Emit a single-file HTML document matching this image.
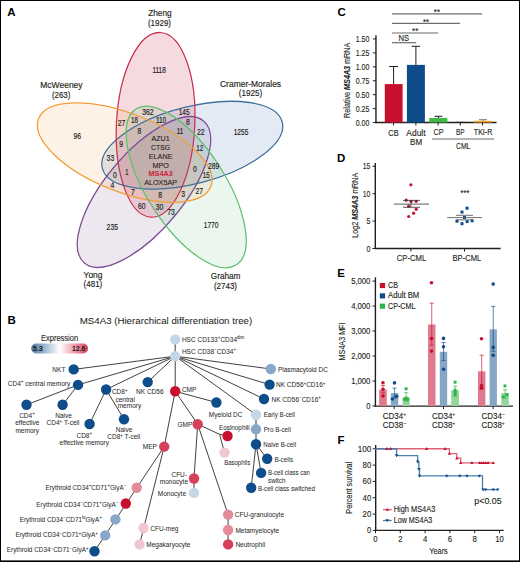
<!DOCTYPE html>
<html><head><meta charset="utf-8"><style>
html,body{margin:0;padding:0;background:#fff;}
svg{display:block;}
text{font-family:"Liberation Sans", sans-serif;}
</style></head><body>
<svg width="520" height="562" viewBox="0 0 520 562">
<rect x="0" y="0" width="520" height="562" fill="#fff"/>
<g>
<ellipse cx="143.97" cy="191.99" rx="37.93" ry="91.65" transform="rotate(219.98 143.97 191.99)" fill="rgb(68,16,99)" fill-opacity="0.0962" stroke="none"/>
<ellipse cx="192.29" cy="145.18" rx="37.41" ry="91.83" transform="rotate(75.54 192.29 145.18)" fill="rgb(14,67,148)" fill-opacity="0.1119" stroke="none"/>
<ellipse cx="155.59" cy="124.8" rx="38.13" ry="91.39" transform="rotate(2.92 155.59 124.8)" fill="rgb(189,10,50)" fill-opacity="0.1511" stroke="none"/>
<ellipse cx="124.71" cy="152.58" rx="38.05" ry="91.53" transform="rotate(291.55 124.71 152.58)" fill="rgb(245,130,15)" fill-opacity="0.104" stroke="none"/>
<ellipse cx="186.18" cy="186.92" rx="38.1" ry="91.61" transform="rotate(147.21 186.18 186.92)" fill="rgb(17,153,63)" fill-opacity="0.0884" stroke="none"/>
<ellipse cx="143.97" cy="191.99" rx="38.93" ry="92.65" transform="rotate(219.98 143.97 191.99)" fill="none" stroke="#7d4d93" stroke-width="1.3"/>
<ellipse cx="192.29" cy="145.18" rx="38.41" ry="92.83" transform="rotate(75.54 192.29 145.18)" fill="none" stroke="#3d6f9c" stroke-width="1.3"/>
<ellipse cx="155.59" cy="124.8" rx="39.13" ry="92.39" transform="rotate(2.92 155.59 124.8)" fill="none" stroke="#c9314f" stroke-width="1.3"/>
<ellipse cx="124.71" cy="152.58" rx="39.05" ry="92.53" transform="rotate(291.55 124.71 152.58)" fill="none" stroke="#f39c33" stroke-width="1.3"/>
<ellipse cx="186.18" cy="186.92" rx="39.1" ry="92.61" transform="rotate(147.21 186.18 186.92)" fill="none" stroke="#5dbf6c" stroke-width="1.3"/>
</g>
<text x="7.3" y="15.9" font-size="11.5" text-anchor="start" fill="#000" font-weight="bold">A</text>
<text x="159.95" y="16.3" font-size="8.4" text-anchor="middle" fill="#231f20" font-weight="normal" textLength="23.5" lengthAdjust="spacingAndGlyphs" stroke="#231f20" stroke-width="0.15">Zheng</text>
<text x="159.45" y="25.8" font-size="8.4" text-anchor="middle" fill="#231f20" font-weight="normal" textLength="23.1" lengthAdjust="spacingAndGlyphs" stroke="#231f20" stroke-width="0.15">(1929)</text>
<text x="61.45" y="88.2" font-size="8.4" text-anchor="middle" fill="#231f20" font-weight="normal" textLength="42.3" lengthAdjust="spacingAndGlyphs" stroke="#231f20" stroke-width="0.15">McWeeney</text>
<text x="61.15" y="97.8" font-size="8.4" text-anchor="middle" fill="#231f20" font-weight="normal" textLength="18.5" lengthAdjust="spacingAndGlyphs" stroke="#231f20" stroke-width="0.15">(263)</text>
<text x="250.55" y="86.8" font-size="8.4" text-anchor="middle" fill="#231f20" font-weight="normal" textLength="61.1" lengthAdjust="spacingAndGlyphs" stroke="#231f20" stroke-width="0.15">Cramer-Morales</text>
<text x="250.55" y="96.4" font-size="8.4" text-anchor="middle" fill="#231f20" font-weight="normal" textLength="23.5" lengthAdjust="spacingAndGlyphs" stroke="#231f20" stroke-width="0.15">(1925)</text>
<text x="225.6" y="278.8" font-size="8.4" text-anchor="middle" fill="#231f20" font-weight="normal" textLength="29.6" lengthAdjust="spacingAndGlyphs" stroke="#231f20" stroke-width="0.15">Graham</text>
<text x="225.45" y="288.7" font-size="8.4" text-anchor="middle" fill="#231f20" font-weight="normal" textLength="23.1" lengthAdjust="spacingAndGlyphs" stroke="#231f20" stroke-width="0.15">(2743)</text>
<text x="92.95" y="277.7" font-size="8.4" text-anchor="middle" fill="#231f20" font-weight="normal" textLength="18.7" lengthAdjust="spacingAndGlyphs" stroke="#231f20" stroke-width="0.15">Yong</text>
<text x="92.95" y="287.3" font-size="8.4" text-anchor="middle" fill="#231f20" font-weight="normal" textLength="18.7" lengthAdjust="spacingAndGlyphs" stroke="#231f20" stroke-width="0.15">(481)</text>
<text x="159.1" y="72.5" font-size="8.2" text-anchor="middle" fill="#231f20" font-weight="normal" textLength="13.4" lengthAdjust="spacingAndGlyphs" stroke="#231f20" stroke-width="0.16">1118</text>
<text x="77.2" y="138.5" font-size="8.2" text-anchor="middle" fill="#231f20" font-weight="normal" textLength="7.6" lengthAdjust="spacingAndGlyphs" stroke="#231f20" stroke-width="0.16">96</text>
<text x="241" y="134.7" font-size="8.2" text-anchor="middle" fill="#231f20" font-weight="normal" textLength="14.6" lengthAdjust="spacingAndGlyphs" stroke="#231f20" stroke-width="0.16">1255</text>
<text x="211.1" y="227.7" font-size="8.2" text-anchor="middle" fill="#231f20" font-weight="normal" textLength="14.6" lengthAdjust="spacingAndGlyphs" stroke="#231f20" stroke-width="0.16">1770</text>
<text x="112.3" y="230.1" font-size="8.2" text-anchor="middle" fill="#231f20" font-weight="normal" textLength="11.4" lengthAdjust="spacingAndGlyphs" stroke="#231f20" stroke-width="0.16">235</text>
<text x="147.9" y="114.9" font-size="8.2" text-anchor="middle" fill="#231f20" font-weight="normal" textLength="11.4" lengthAdjust="spacingAndGlyphs" stroke="#231f20" stroke-width="0.16">362</text>
<text x="184.1" y="114.9" font-size="8.2" text-anchor="middle" fill="#231f20" font-weight="normal" textLength="10.8" lengthAdjust="spacingAndGlyphs" stroke="#231f20" stroke-width="0.16">145</text>
<text x="121.5" y="125.5" font-size="8.2" text-anchor="middle" fill="#231f20" font-weight="normal" textLength="7.6" lengthAdjust="spacingAndGlyphs" stroke="#231f20" stroke-width="0.16">27</text>
<text x="134.5" y="123.1" font-size="8.2" text-anchor="middle" fill="#231f20" font-weight="normal" textLength="7.0" lengthAdjust="spacingAndGlyphs" stroke="#231f20" stroke-width="0.16">18</text>
<text x="161" y="122.9" font-size="8.2" text-anchor="middle" fill="#231f20" font-weight="normal" textLength="10.2" lengthAdjust="spacingAndGlyphs" stroke="#231f20" stroke-width="0.16">110</text>
<text x="188" y="125" font-size="8.2" text-anchor="middle" fill="#231f20" font-weight="normal" textLength="3.8" lengthAdjust="spacingAndGlyphs" stroke="#231f20" stroke-width="0.16">8</text>
<text x="139.5" y="134.4" font-size="8.2" text-anchor="middle" fill="#231f20" font-weight="normal" textLength="3.8" lengthAdjust="spacingAndGlyphs" stroke="#231f20" stroke-width="0.16">8</text>
<text x="180" y="134.4" font-size="8.2" text-anchor="middle" fill="#231f20" font-weight="normal" textLength="6.4" lengthAdjust="spacingAndGlyphs" stroke="#231f20" stroke-width="0.16">11</text>
<text x="200.7" y="135" font-size="8.2" text-anchor="middle" fill="#231f20" font-weight="normal" textLength="7.6" lengthAdjust="spacingAndGlyphs" stroke="#231f20" stroke-width="0.16">22</text>
<text x="121.2" y="146.5" font-size="8.2" text-anchor="middle" fill="#231f20" font-weight="normal" textLength="3.8" lengthAdjust="spacingAndGlyphs" stroke="#231f20" stroke-width="0.16">9</text>
<text x="110.4" y="161.3" font-size="8.2" text-anchor="middle" fill="#231f20" font-weight="normal" textLength="7.6" lengthAdjust="spacingAndGlyphs" stroke="#231f20" stroke-width="0.16">33</text>
<text x="199.7" y="150.6" font-size="8.2" text-anchor="middle" fill="#231f20" font-weight="normal" textLength="7.0" lengthAdjust="spacingAndGlyphs" stroke="#231f20" stroke-width="0.16">12</text>
<text x="114.8" y="178.3" font-size="8.2" text-anchor="middle" fill="#231f20" font-weight="normal" textLength="3.8" lengthAdjust="spacingAndGlyphs" stroke="#231f20" stroke-width="0.16">0</text>
<text x="126.9" y="174.8" font-size="8.2" text-anchor="middle" fill="#231f20" font-weight="normal" textLength="3.2" lengthAdjust="spacingAndGlyphs" stroke="#231f20" stroke-width="0.16">1</text>
<text x="195" y="172.1" font-size="8.2" text-anchor="middle" fill="#231f20" font-weight="normal" textLength="3.8" lengthAdjust="spacingAndGlyphs" stroke="#231f20" stroke-width="0.16">0</text>
<text x="213.7" y="169.4" font-size="8.2" text-anchor="middle" fill="#231f20" font-weight="normal" textLength="11.4" lengthAdjust="spacingAndGlyphs" stroke="#231f20" stroke-width="0.16">289</text>
<text x="206.3" y="178.3" font-size="8.2" text-anchor="middle" fill="#231f20" font-weight="normal" textLength="7.0" lengthAdjust="spacingAndGlyphs" stroke="#231f20" stroke-width="0.16">15</text>
<text x="112.5" y="188.3" font-size="8.2" text-anchor="middle" fill="#231f20" font-weight="normal" textLength="3.8" lengthAdjust="spacingAndGlyphs" stroke="#231f20" stroke-width="0.16">4</text>
<text x="133" y="195" font-size="8.2" text-anchor="middle" fill="#231f20" font-weight="normal" textLength="3.8" lengthAdjust="spacingAndGlyphs" stroke="#231f20" stroke-width="0.16">7</text>
<text x="160.2" y="198.2" font-size="8.2" text-anchor="middle" fill="#231f20" font-weight="normal" textLength="3.8" lengthAdjust="spacingAndGlyphs" stroke="#231f20" stroke-width="0.16">8</text>
<text x="183.2" y="197.2" font-size="8.2" text-anchor="middle" fill="#231f20" font-weight="normal" textLength="3.8" lengthAdjust="spacingAndGlyphs" stroke="#231f20" stroke-width="0.16">3</text>
<text x="199.2" y="194.2" font-size="8.2" text-anchor="middle" fill="#231f20" font-weight="normal" textLength="7.6" lengthAdjust="spacingAndGlyphs" stroke="#231f20" stroke-width="0.16">27</text>
<text x="141.8" y="208.9" font-size="8.2" text-anchor="middle" fill="#231f20" font-weight="normal" textLength="7.6" lengthAdjust="spacingAndGlyphs" stroke="#231f20" stroke-width="0.16">60</text>
<text x="159.6" y="209.9" font-size="8.2" text-anchor="middle" fill="#231f20" font-weight="normal" textLength="7.6" lengthAdjust="spacingAndGlyphs" stroke="#231f20" stroke-width="0.16">30</text>
<text x="171" y="215" font-size="8.2" text-anchor="middle" fill="#231f20" font-weight="normal" textLength="7.6" lengthAdjust="spacingAndGlyphs" stroke="#231f20" stroke-width="0.16">73</text>
<text x="160.6" y="141.1" font-size="8.0" text-anchor="middle" fill="#231f20" font-weight="normal" textLength="18.2" lengthAdjust="spacingAndGlyphs" stroke="#231f20" stroke-width="0.1">AZU1</text>
<text x="160.6" y="149.8" font-size="8.0" text-anchor="middle" fill="#231f20" font-weight="normal" textLength="19" lengthAdjust="spacingAndGlyphs" stroke="#231f20" stroke-width="0.1">CTSG</text>
<text x="160.6" y="158.8" font-size="8.0" text-anchor="middle" fill="#231f20" font-weight="normal" textLength="23.8" lengthAdjust="spacingAndGlyphs" stroke="#231f20" stroke-width="0.1">ELANE</text>
<text x="160.6" y="167.5" font-size="8.0" text-anchor="middle" fill="#231f20" font-weight="normal" textLength="16.4" lengthAdjust="spacingAndGlyphs" stroke="#231f20" stroke-width="0.1">MPO</text>
<text x="160.6" y="176.1" font-size="8.0" text-anchor="middle" fill="#cc1f3c" font-weight="bold" textLength="24.2" lengthAdjust="spacingAndGlyphs">MS4A3</text>
<text x="160.6" y="184.8" font-size="8.0" text-anchor="middle" fill="#231f20" font-weight="normal" textLength="32.9" lengthAdjust="spacingAndGlyphs" stroke="#231f20" stroke-width="0.1">ALOX5AP</text>
<text x="7.5" y="324.4" font-size="11.5" text-anchor="start" fill="#000" font-weight="bold">B</text>
<text x="79.7" y="324.1" font-size="9.9" text-anchor="start" fill="#231f20" font-weight="normal" textLength="172.5" lengthAdjust="spacingAndGlyphs" stroke="#231f20" stroke-width="0.05">MS4A3 (Hierarchical differentiation tree)</text>
<text x="40.9" y="340.6" font-size="8.2" text-anchor="start" fill="#333" font-weight="normal" textLength="37.3" lengthAdjust="spacingAndGlyphs" stroke="#333" stroke-width="0.15">Expression</text>
<defs><linearGradient id="gr" x1="0" x2="1" y1="0" y2="0"><stop offset="0" stop-color="#4a78aa"/><stop offset="0.5" stop-color="#ffffff"/><stop offset="1" stop-color="#d8415e"/></linearGradient></defs>
<rect x="31.2" y="343.5" width="56.9" height="10" rx="5" fill="url(#gr)"/>
<text x="32.7" y="350.5" font-size="7.0" text-anchor="start" fill="#1a1a1a" font-weight="bold" textLength="10.3" lengthAdjust="spacingAndGlyphs">5.3</text>
<text x="72.1" y="350.5" font-size="7.0" text-anchor="start" fill="#1a1a1a" font-weight="bold" textLength="13.1" lengthAdjust="spacingAndGlyphs">12.6</text>
<line x1="175.2" y1="339.4" x2="175.2" y2="356.2" stroke="#2b2b2b" stroke-width="0.9"/>
<line x1="175.2" y1="356.2" x2="73.7" y2="369.4" stroke="#2b2b2b" stroke-width="0.9"/>
<line x1="175.2" y1="356.2" x2="78" y2="384.9" stroke="#2b2b2b" stroke-width="0.9"/>
<line x1="175.2" y1="356.2" x2="106.1" y2="389.5" stroke="#2b2b2b" stroke-width="0.9"/>
<line x1="175.2" y1="356.2" x2="147.7" y2="382.1" stroke="#2b2b2b" stroke-width="0.9"/>
<line x1="175.2" y1="356.2" x2="175.2" y2="391.3" stroke="#2b2b2b" stroke-width="0.9"/>
<line x1="175.2" y1="356.2" x2="270.8" y2="369" stroke="#2b2b2b" stroke-width="0.9"/>
<line x1="175.2" y1="356.2" x2="269.6" y2="384.6" stroke="#2b2b2b" stroke-width="0.9"/>
<line x1="175.2" y1="356.2" x2="264" y2="399" stroke="#2b2b2b" stroke-width="0.9"/>
<line x1="175.2" y1="356.2" x2="256" y2="414.7" stroke="#2b2b2b" stroke-width="0.9"/>
<line x1="78" y1="384.9" x2="26.5" y2="404.8" stroke="#2b2b2b" stroke-width="0.9"/>
<line x1="78" y1="384.9" x2="62.6" y2="404.8" stroke="#2b2b2b" stroke-width="0.9"/>
<line x1="106.1" y1="389.5" x2="89.6" y2="424" stroke="#2b2b2b" stroke-width="0.9"/>
<line x1="106.1" y1="389.5" x2="124" y2="419.3" stroke="#2b2b2b" stroke-width="0.9"/>
<line x1="175.2" y1="391.3" x2="216.4" y2="402.5" stroke="#2b2b2b" stroke-width="0.9"/>
<line x1="175.2" y1="391.3" x2="197.7" y2="424.2" stroke="#2b2b2b" stroke-width="0.9"/>
<line x1="175.2" y1="391.3" x2="164.2" y2="446.6" stroke="#2b2b2b" stroke-width="0.9"/>
<line x1="197.7" y1="424.2" x2="194" y2="478.5" stroke="#2b2b2b" stroke-width="0.9"/>
<line x1="197.7" y1="424.2" x2="228.1" y2="514.6" stroke="#2b2b2b" stroke-width="0.9"/>
<line x1="164.2" y1="446.6" x2="94.5" y2="551.3" stroke="#2b2b2b" stroke-width="0.9"/>
<line x1="164.2" y1="446.6" x2="139.6" y2="544.4" stroke="#2b2b2b" stroke-width="0.9"/>
<line x1="256" y1="444.2" x2="267.2" y2="458.8" stroke="#2b2b2b" stroke-width="0.9"/>
<line x1="256" y1="444.2" x2="261.1" y2="472.9" stroke="#2b2b2b" stroke-width="0.9"/>
<line x1="256" y1="444.2" x2="251.2" y2="487.7" stroke="#2b2b2b" stroke-width="0.9"/>
<line x1="197.7" y1="424.2" x2="219.6" y2="434.3" stroke="#2b2b2b" stroke-width="0.9"/>
<line x1="219.6" y1="434.3" x2="227.5" y2="436" stroke="#2b2b2b" stroke-width="0.9"/>
<line x1="219.6" y1="434.3" x2="224.5" y2="452.6" stroke="#2b2b2b" stroke-width="0.9"/>
<line x1="256" y1="414.7" x2="256" y2="429.3" stroke="#7a7a7a" stroke-width="1.5"/>
<line x1="256" y1="429.3" x2="256" y2="444.2" stroke="#7a7a7a" stroke-width="1.5"/>
<line x1="194" y1="478.5" x2="194" y2="492.9" stroke="#555" stroke-width="1.1"/>
<line x1="228.1" y1="514.6" x2="228.1" y2="530" stroke="#555" stroke-width="1.1"/>
<line x1="228.1" y1="530" x2="228.1" y2="544.4" stroke="#555" stroke-width="1.1"/>
<circle cx="175.2" cy="339.4" r="5.2" fill="#c5d6e6"/>
<circle cx="175.2" cy="356.2" r="5.2" fill="#c5d6e6"/>
<circle cx="73.7" cy="369.4" r="5.2" fill="#0f4c8a"/>
<circle cx="78" cy="384.9" r="5.2" fill="#0f4c8a"/>
<circle cx="26.5" cy="404.8" r="5.2" fill="#0f4c8a"/>
<circle cx="62.6" cy="404.8" r="5.2" fill="#0f4c8a"/>
<circle cx="106.1" cy="389.5" r="5.2" fill="#0f4c8a"/>
<circle cx="89.6" cy="424" r="5.2" fill="#0f4c8a"/>
<circle cx="124" cy="419.3" r="5.2" fill="#0f4c8a"/>
<circle cx="147.7" cy="382.1" r="5.2" fill="#0f4c8a"/>
<circle cx="175.2" cy="391.3" r="5.2" fill="#c8102e"/>
<circle cx="270.8" cy="369" r="5.2" fill="#88a8c9"/>
<circle cx="269.6" cy="384.6" r="5.2" fill="#0f4c8a"/>
<circle cx="264" cy="399" r="5.2" fill="#0f4c8a"/>
<circle cx="216.4" cy="402.5" r="5.2" fill="#0f4c8a"/>
<circle cx="256" cy="414.7" r="5.2" fill="#c5d6e6"/>
<circle cx="256" cy="429.3" r="5.2" fill="#88a8c9"/>
<circle cx="256" cy="444.2" r="5.2" fill="#0f4c8a"/>
<circle cx="267.2" cy="458.8" r="5.2" fill="#0f4c8a"/>
<circle cx="261.1" cy="472.9" r="5.2" fill="#0f4c8a"/>
<circle cx="251.2" cy="487.7" r="5.2" fill="#0f4c8a"/>
<circle cx="197.7" cy="424.2" r="5.2" fill="#d6405b"/>
<circle cx="227.5" cy="436" r="5.2" fill="#c8102e"/>
<circle cx="224.5" cy="452.6" r="5.2" fill="#f2c6ce"/>
<circle cx="164.2" cy="446.6" r="5.2" fill="#d6405b"/>
<circle cx="194" cy="478.5" r="5.2" fill="#d6405b"/>
<circle cx="194" cy="492.9" r="5.2" fill="#c5d6e6"/>
<circle cx="228.1" cy="514.6" r="5.2" fill="#e48b9b"/>
<circle cx="228.1" cy="530" r="5.2" fill="#e48b9b"/>
<circle cx="228.1" cy="544.4" r="5.2" fill="#d6405b"/>
<circle cx="136.7" cy="487.7" r="5.2" fill="#e48b9b"/>
<circle cx="125.8" cy="503.5" r="5.2" fill="#c8102e"/>
<circle cx="115.4" cy="519.4" r="5.2" fill="#88a8c9"/>
<circle cx="105.2" cy="535.4" r="5.2" fill="#88a8c9"/>
<circle cx="94.5" cy="551.3" r="5.2" fill="#0f4c8a"/>
<circle cx="143.5" cy="528" r="5.2" fill="#f2c6ce"/>
<circle cx="139.6" cy="544.4" r="5.2" fill="#f2c6ce"/>
<g transform="translate(181.9 341.6) scale(0.945 1)">
<text x="0" y="0" font-size="6.9" text-anchor="start" fill="#2a2a2a" font-weight="normal" stroke="#333" stroke-width="0.04">HSC CD133<tspan font-size="4.8" dy="-2.6">+</tspan><tspan dy="2.6">CD34</tspan><tspan font-size="4.8" dy="-2.6">dim</tspan></text>
</g>
<g transform="translate(181.9 353.8) scale(0.945 1)">
<text x="0" y="0" font-size="6.9" text-anchor="start" fill="#2a2a2a" font-weight="normal" stroke="#333" stroke-width="0.04">HSC CD38<tspan font-size="4.8" dy="-2.6">−</tspan><tspan dy="2.6">CD34</tspan><tspan font-size="4.8" dy="-2.6">+</tspan></text>
</g>
<g transform="translate(65.4 372.3) scale(0.945 1)">
<text x="0" y="0" font-size="6.9" text-anchor="end" fill="#2a2a2a" font-weight="normal" stroke="#333" stroke-width="0.04">NKT</text>
</g>
<g transform="translate(70.2 385.6) scale(0.945 1)">
<text x="0" y="0" font-size="6.9" text-anchor="end" fill="#2a2a2a" font-weight="normal" stroke="#333" stroke-width="0.04">CD4<tspan font-size="4.8" dy="-2.6">+</tspan><tspan dy="2.6"> central memory</tspan></text>
</g>
<g transform="translate(27 417.7) scale(0.945 1)">
<text x="0" y="0" font-size="6.9" text-anchor="middle" fill="#2a2a2a" font-weight="normal" stroke="#333" stroke-width="0.04">CD4<tspan font-size="4.8" dy="-2.6">+</tspan></text>
</g>
<g transform="translate(27.2 425.4) scale(0.945 1)">
<text x="0" y="0" font-size="6.9" text-anchor="middle" fill="#2a2a2a" font-weight="normal" stroke="#333" stroke-width="0.04">effective</text>
</g>
<g transform="translate(27.2 433.0) scale(0.945 1)">
<text x="0" y="0" font-size="6.9" text-anchor="middle" fill="#2a2a2a" font-weight="normal" stroke="#333" stroke-width="0.04">memory</text>
</g>
<g transform="translate(63.5 417.7) scale(0.945 1)">
<text x="0" y="0" font-size="6.9" text-anchor="middle" fill="#2a2a2a" font-weight="normal" stroke="#333" stroke-width="0.04">Naive</text>
</g>
<g transform="translate(63 425.4) scale(0.945 1)">
<text x="0" y="0" font-size="6.9" text-anchor="middle" fill="#2a2a2a" font-weight="normal" stroke="#333" stroke-width="0.04">CD4<tspan font-size="4.8" dy="-2.6">+</tspan><tspan dy="2.6"> T-cell</tspan></text>
</g>
<g transform="translate(111.9 394.2) scale(0.945 1)">
<text x="0" y="0" font-size="6.9" text-anchor="start" fill="#2a2a2a" font-weight="normal" stroke="#333" stroke-width="0.04">CD8<tspan font-size="4.8" dy="-2.6">+</tspan></text>
</g>
<g transform="translate(115.4 402.0) scale(0.945 1)">
<text x="0" y="0" font-size="6.9" text-anchor="start" fill="#2a2a2a" font-weight="normal" stroke="#333" stroke-width="0.04">central</text>
</g>
<g transform="translate(117.7 407.9) scale(0.945 1)">
<text x="0" y="0" font-size="6.9" text-anchor="start" fill="#2a2a2a" font-weight="normal" stroke="#333" stroke-width="0.04">memory</text>
</g>
<g transform="translate(124 432.3) scale(0.945 1)">
<text x="0" y="0" font-size="6.9" text-anchor="middle" fill="#2a2a2a" font-weight="normal" stroke="#333" stroke-width="0.04">Naive</text>
</g>
<g transform="translate(123.7 439.4) scale(0.945 1)">
<text x="0" y="0" font-size="6.9" text-anchor="middle" fill="#2a2a2a" font-weight="normal" stroke="#333" stroke-width="0.04">CD8<tspan font-size="4.8" dy="-2.6">+</tspan><tspan dy="2.6"> T-cell</tspan></text>
</g>
<g transform="translate(84.3 437.5) scale(0.945 1)">
<text x="0" y="0" font-size="6.9" text-anchor="middle" fill="#2a2a2a" font-weight="normal" stroke="#333" stroke-width="0.04">CD8<tspan font-size="4.8" dy="-2.6">+</tspan></text>
</g>
<g transform="translate(84.3 445.0) scale(0.945 1)">
<text x="0" y="0" font-size="6.9" text-anchor="middle" fill="#2a2a2a" font-weight="normal" stroke="#333" stroke-width="0.04">effective memory</text>
</g>
<g transform="translate(149.8 393.8) scale(0.945 1)">
<text x="0" y="0" font-size="6.9" text-anchor="middle" fill="#2a2a2a" font-weight="normal" stroke="#333" stroke-width="0.04">NK CD56</text>
</g>
<g transform="translate(181.9 391.5) scale(0.945 1)">
<text x="0" y="0" font-size="6.9" text-anchor="start" fill="#2a2a2a" font-weight="normal" stroke="#333" stroke-width="0.04">CMP</text>
</g>
<g transform="translate(277.9 371.8) scale(0.945 1)">
<text x="0" y="0" font-size="6.9" text-anchor="start" fill="#2a2a2a" font-weight="normal" stroke="#333" stroke-width="0.04">Plasmacytoid DC</text>
</g>
<g transform="translate(276 387.2) scale(0.945 1)">
<text x="0" y="0" font-size="6.9" text-anchor="start" fill="#2a2a2a" font-weight="normal" stroke="#333" stroke-width="0.04">NK CD56<tspan font-size="4.8" dy="-2.6">+</tspan><tspan dy="2.6">CD16</tspan><tspan font-size="4.8" dy="-2.6">+</tspan></text>
</g>
<g transform="translate(271.5 401.6) scale(0.945 1)">
<text x="0" y="0" font-size="6.9" text-anchor="start" fill="#2a2a2a" font-weight="normal" stroke="#333" stroke-width="0.04">NK CD56<tspan font-size="4.8" dy="-2.6">−</tspan><tspan dy="2.6">CD16</tspan><tspan font-size="4.8" dy="-2.6">+</tspan></text>
</g>
<g transform="translate(225.7 416.5) scale(0.945 1)">
<text x="0" y="0" font-size="6.9" text-anchor="middle" fill="#2a2a2a" font-weight="normal" stroke="#333" stroke-width="0.04">Myeloid DC</text>
</g>
<g transform="translate(263.7 416.9) scale(0.945 1)">
<text x="0" y="0" font-size="6.9" text-anchor="start" fill="#2a2a2a" font-weight="normal" textLength="33.1" lengthAdjust="spacingAndGlyphs" stroke="#333" stroke-width="0.04">Early B-cell</text>
</g>
<g transform="translate(263.7 431.6) scale(0.945 1)">
<text x="0" y="0" font-size="6.9" text-anchor="start" fill="#2a2a2a" font-weight="normal" textLength="28.7" lengthAdjust="spacingAndGlyphs" stroke="#333" stroke-width="0.04">Pro B-cell</text>
</g>
<g transform="translate(263.3 446.5) scale(0.945 1)">
<text x="0" y="0" font-size="6.9" text-anchor="start" fill="#2a2a2a" font-weight="normal" textLength="34.6" lengthAdjust="spacingAndGlyphs" stroke="#333" stroke-width="0.04">Naive B-cell</text>
</g>
<g transform="translate(274.4 462.3) scale(0.945 1)">
<text x="0" y="0" font-size="6.9" text-anchor="start" fill="#2a2a2a" font-weight="normal" textLength="19.7" lengthAdjust="spacingAndGlyphs" stroke="#333" stroke-width="0.04">B-cells</text>
</g>
<g transform="translate(268 475.4) scale(0.945 1)">
<text x="0" y="0" font-size="6.9" text-anchor="start" fill="#2a2a2a" font-weight="normal" textLength="44.4" lengthAdjust="spacingAndGlyphs" stroke="#333" stroke-width="0.04">B-cell class can</text>
</g>
<g transform="translate(268 482.8) scale(0.945 1)">
<text x="0" y="0" font-size="6.9" text-anchor="start" fill="#2a2a2a" font-weight="normal" textLength="18.4" lengthAdjust="spacingAndGlyphs" stroke="#333" stroke-width="0.04">switch</text>
</g>
<g transform="translate(257.9 490.9) scale(0.945 1)">
<text x="0" y="0" font-size="6.9" text-anchor="start" fill="#2a2a2a" font-weight="normal" textLength="60.4" lengthAdjust="spacingAndGlyphs" stroke="#333" stroke-width="0.04">B-cell class switched</text>
</g>
<g transform="translate(192.3 426.8) scale(0.945 1)">
<text x="0" y="0" font-size="6.9" text-anchor="end" fill="#2a2a2a" font-weight="normal" stroke="#333" stroke-width="0.04">GMP</text>
</g>
<g transform="translate(219 430) scale(0.945 1)">
<text x="0" y="0" font-size="6.9" text-anchor="start" fill="#2a2a2a" font-weight="normal" textLength="32.4" lengthAdjust="spacingAndGlyphs" stroke="#333" stroke-width="0.04">Eosinophill</text>
</g>
<g transform="translate(224.2 465) scale(0.945 1)">
<text x="0" y="0" font-size="6.9" text-anchor="start" fill="#2a2a2a" font-weight="normal" textLength="27.5" lengthAdjust="spacingAndGlyphs" stroke="#333" stroke-width="0.04">Basophils</text>
</g>
<g transform="translate(156.9 449.2) scale(0.945 1)">
<text x="0" y="0" font-size="6.9" text-anchor="end" fill="#2a2a2a" font-weight="normal" stroke="#333" stroke-width="0.04">MEP</text>
</g>
<g transform="translate(187 476.5) scale(0.945 1)">
<text x="0" y="0" font-size="6.9" text-anchor="end" fill="#2a2a2a" font-weight="normal" stroke="#333" stroke-width="0.04">CFU-</text>
</g>
<g transform="translate(188 484.2) scale(0.945 1)">
<text x="0" y="0" font-size="6.9" text-anchor="end" fill="#2a2a2a" font-weight="normal" stroke="#333" stroke-width="0.04">monocyte</text>
</g>
<g transform="translate(186 495.8) scale(0.945 1)">
<text x="0" y="0" font-size="6.9" text-anchor="end" fill="#2a2a2a" font-weight="normal" stroke="#333" stroke-width="0.04">Monocyte</text>
</g>
<g transform="translate(234.8 517) scale(0.945 1)">
<text x="0" y="0" font-size="6.9" text-anchor="start" fill="#2a2a2a" font-weight="normal" stroke="#333" stroke-width="0.04">CFU-granulocyte</text>
</g>
<g transform="translate(235.4 532.5) scale(0.945 1)">
<text x="0" y="0" font-size="6.9" text-anchor="start" fill="#2a2a2a" font-weight="normal" stroke="#333" stroke-width="0.04">Metamyelocyte</text>
</g>
<g transform="translate(235.4 547) scale(0.945 1)">
<text x="0" y="0" font-size="6.9" text-anchor="start" fill="#2a2a2a" font-weight="normal" stroke="#333" stroke-width="0.04">Neutrophil</text>
</g>
<g transform="translate(150.2 530.5) scale(0.945 1)">
<text x="0" y="0" font-size="6.9" text-anchor="start" fill="#2a2a2a" font-weight="normal" stroke="#333" stroke-width="0.04">CFU-meg</text>
</g>
<g transform="translate(146.3 547) scale(0.945 1)">
<text x="0" y="0" font-size="6.9" text-anchor="start" fill="#2a2a2a" font-weight="normal" stroke="#333" stroke-width="0.04">Megakaryocyte</text>
</g>
<g transform="translate(126.2 490) scale(0.945 1)">
<text x="0" y="0" font-size="6.9" text-anchor="end" fill="#2a2a2a" font-weight="normal" textLength="85.4" lengthAdjust="spacingAndGlyphs" stroke="#333" stroke-width="0.04">Erythroid CD34<tspan font-size="4.8" dy="-2.6">+</tspan><tspan dy="2.6">CD71</tspan><tspan font-size="4.8" dy="-2.6">+</tspan><tspan dy="2.6">GlyA</tspan><tspan font-size="4.8" dy="-2.6">−</tspan></text>
</g>
<g transform="translate(118.5 507) scale(0.945 1)">
<text x="0" y="0" font-size="6.9" text-anchor="end" fill="#2a2a2a" font-weight="normal" textLength="87.0" lengthAdjust="spacingAndGlyphs" stroke="#333" stroke-width="0.04">Erythroid CD34<tspan font-size="4.8" dy="-2.6">−</tspan><tspan dy="2.6">CD71</tspan><tspan font-size="4.8" dy="-2.6">+</tspan><tspan dy="2.6">GlyA</tspan><tspan font-size="4.8" dy="-2.6">−</tspan></text>
</g>
<g transform="translate(101.8 521.7) scale(0.945 1)">
<text x="0" y="0" font-size="6.9" text-anchor="end" fill="#2a2a2a" font-weight="normal" textLength="86.9" lengthAdjust="spacingAndGlyphs" stroke="#333" stroke-width="0.04">Erythroid CD34<tspan font-size="4.8" dy="-2.6">−</tspan><tspan dy="2.6">CD71</tspan><tspan font-size="4.8" dy="-2.6">lo</tspan><tspan dy="2.6">GlyA</tspan><tspan font-size="4.8" dy="-2.6">+</tspan></text>
</g>
<g transform="translate(97.8 537.2) scale(0.945 1)">
<text x="0" y="0" font-size="6.9" text-anchor="end" fill="#2a2a2a" font-weight="normal" textLength="87.2" lengthAdjust="spacingAndGlyphs" stroke="#333" stroke-width="0.04">Erythroid CD34<tspan font-size="4.8" dy="-2.6">−</tspan><tspan dy="2.6">CD71</tspan><tspan font-size="4.8" dy="-2.6">+</tspan><tspan dy="2.6">GlyA</tspan><tspan font-size="4.8" dy="-2.6">+</tspan></text>
</g>
<g transform="translate(88.6 552.3) scale(0.945 1)">
<text x="0" y="0" font-size="6.9" text-anchor="end" fill="#2a2a2a" font-weight="normal" textLength="86.6" lengthAdjust="spacingAndGlyphs" stroke="#333" stroke-width="0.04">Erythroid CD34<tspan font-size="4.8" dy="-2.6">−</tspan><tspan dy="2.6">CD71</tspan><tspan font-size="4.8" dy="-2.6">−</tspan><tspan dy="2.6">GlyA</tspan><tspan font-size="4.8" dy="-2.6">+</tspan></text>
</g>
<text x="337.6" y="16.4" font-size="11.5" text-anchor="start" fill="#000" font-weight="bold">C</text>
<line x1="375.95" y1="35.2" x2="375.95" y2="123.2" stroke="#231f20" stroke-width="1.4"/>
<line x1="375.3" y1="122.5" x2="496.5" y2="122.5" stroke="#231f20" stroke-width="1.3"/>
<line x1="372.8" y1="122.50" x2="375.9" y2="122.50" stroke="#231f20" stroke-width="1"/>
<text x="369.4" y="125.6" font-size="8.2" text-anchor="end" fill="#231f20" font-weight="normal" textLength="13.6" lengthAdjust="spacingAndGlyphs" stroke="#231f20" stroke-width="0.12">0.00</text>
<line x1="372.8" y1="108.58" x2="375.9" y2="108.58" stroke="#231f20" stroke-width="1"/>
<text x="369.4" y="111.68" font-size="8.2" text-anchor="end" fill="#231f20" font-weight="normal" textLength="13.6" lengthAdjust="spacingAndGlyphs" stroke="#231f20" stroke-width="0.12">0.25</text>
<line x1="372.8" y1="94.66" x2="375.9" y2="94.66" stroke="#231f20" stroke-width="1"/>
<text x="369.4" y="97.76" font-size="8.2" text-anchor="end" fill="#231f20" font-weight="normal" textLength="13.6" lengthAdjust="spacingAndGlyphs" stroke="#231f20" stroke-width="0.12">0.50</text>
<line x1="372.8" y1="80.74" x2="375.9" y2="80.74" stroke="#231f20" stroke-width="1"/>
<text x="369.4" y="83.84" font-size="8.2" text-anchor="end" fill="#231f20" font-weight="normal" textLength="13.6" lengthAdjust="spacingAndGlyphs" stroke="#231f20" stroke-width="0.12">0.75</text>
<line x1="372.8" y1="66.82" x2="375.9" y2="66.82" stroke="#231f20" stroke-width="1"/>
<text x="369.4" y="69.92" font-size="8.2" text-anchor="end" fill="#231f20" font-weight="normal" textLength="13.6" lengthAdjust="spacingAndGlyphs" stroke="#231f20" stroke-width="0.12">1.00</text>
<line x1="372.8" y1="52.90" x2="375.9" y2="52.90" stroke="#231f20" stroke-width="1"/>
<text x="369.4" y="56.0" font-size="8.2" text-anchor="end" fill="#231f20" font-weight="normal" textLength="13.6" lengthAdjust="spacingAndGlyphs" stroke="#231f20" stroke-width="0.12">1.25</text>
<line x1="372.8" y1="38.98" x2="375.9" y2="38.98" stroke="#231f20" stroke-width="1"/>
<text x="369.4" y="42.08" font-size="8.2" text-anchor="end" fill="#231f20" font-weight="normal" textLength="13.6" lengthAdjust="spacingAndGlyphs" stroke="#231f20" stroke-width="0.12">1.50</text>
<rect x="384.8" y="84.08" width="17.80" height="38.42" fill="#c8102e"/>
<rect x="406.9" y="64.87" width="18.00" height="57.63" fill="#0f4c8a"/>
<rect x="429.2" y="117.93" width="18.20" height="4.57" fill="#43b649"/>
<rect x="456.0" y="121.83" width="9.00" height="0.67" fill="#231f20"/>
<rect x="473.8" y="120.83" width="18.10" height="1.67" fill="#f7a11a"/>
<line x1="393.6" y1="84.08" x2="393.6" y2="66.5" stroke="#231f20" stroke-width="1.0"/>
<line x1="389.1" y1="66.5" x2="398.1" y2="66.5" stroke="#231f20" stroke-width="1.0"/>
<line x1="415.9" y1="64.87" x2="415.9" y2="46.3" stroke="#231f20" stroke-width="1.0"/>
<line x1="411.59999999999997" y1="46.3" x2="420.2" y2="46.3" stroke="#231f20" stroke-width="1.0"/>
<line x1="438.5" y1="117.93" x2="438.5" y2="116.3" stroke="#231f20" stroke-width="1.0"/>
<line x1="434.6" y1="116.3" x2="442.4" y2="116.3" stroke="#231f20" stroke-width="1.0"/>
<line x1="483.0" y1="120.83" x2="483.0" y2="119.7" stroke="#777" stroke-width="1.0"/>
<line x1="479.0" y1="119.7" x2="487.0" y2="119.7" stroke="#777" stroke-width="1.0"/>
<line x1="393.5" y1="122.5" x2="393.5" y2="125.5" stroke="#231f20" stroke-width="1"/>
<line x1="415.9" y1="122.5" x2="415.9" y2="125.5" stroke="#231f20" stroke-width="1"/>
<line x1="438.1" y1="122.5" x2="438.1" y2="125.5" stroke="#231f20" stroke-width="1"/>
<line x1="460.3" y1="122.5" x2="460.3" y2="125.5" stroke="#231f20" stroke-width="1"/>
<line x1="482.5" y1="122.5" x2="482.5" y2="125.5" stroke="#231f20" stroke-width="1"/>
<line x1="392" y1="13.8" x2="482" y2="13.8" stroke="#6d6d6d" stroke-width="1.2"/>
<text x="436.9" y="15.200000000000001" font-size="8.6" text-anchor="middle" fill="#231f20" font-weight="normal" textLength="6.2" lengthAdjust="spacingAndGlyphs" stroke="#231f20" stroke-width="0.12">**</text>
<line x1="392" y1="23.3" x2="460.1" y2="23.3" stroke="#6d6d6d" stroke-width="1.2"/>
<text x="426" y="24.7" font-size="8.6" text-anchor="middle" fill="#231f20" font-weight="normal" textLength="6.2" lengthAdjust="spacingAndGlyphs" stroke="#231f20" stroke-width="0.12">**</text>
<line x1="392" y1="33" x2="438.2" y2="33" stroke="#6d6d6d" stroke-width="1.2"/>
<text x="415.2" y="34.4" font-size="8.6" text-anchor="middle" fill="#231f20" font-weight="normal" textLength="6.2" lengthAdjust="spacingAndGlyphs" stroke="#231f20" stroke-width="0.12">**</text>
<line x1="392" y1="42.7" x2="416.2" y2="42.7" stroke="#6d6d6d" stroke-width="1.2"/>
<text x="403.9" y="40.9" font-size="8.2" text-anchor="middle" fill="#231f20" font-weight="normal" textLength="10.6" lengthAdjust="spacingAndGlyphs" stroke="#231f20" stroke-width="0.12">NS</text>
<text x="393.5" y="135.5" font-size="8.6" text-anchor="middle" fill="#231f20" font-weight="normal" textLength="10.4" lengthAdjust="spacingAndGlyphs" stroke="#231f20" stroke-width="0.12">CB</text>
<text x="415.95" y="135.5" font-size="8.6" text-anchor="middle" fill="#231f20" font-weight="normal" textLength="19.3" lengthAdjust="spacingAndGlyphs" stroke="#231f20" stroke-width="0.12">Adult</text>
<text x="416.05" y="145.0" font-size="8.6" text-anchor="middle" fill="#231f20" font-weight="normal" textLength="12.1" lengthAdjust="spacingAndGlyphs" stroke="#231f20" stroke-width="0.12">BM</text>
<text x="438.45" y="135.0" font-size="8.6" text-anchor="middle" fill="#231f20" font-weight="normal" textLength="10.1" lengthAdjust="spacingAndGlyphs" stroke="#231f20" stroke-width="0.12">CP</text>
<text x="460.3" y="135.0" font-size="8.6" text-anchor="middle" fill="#231f20" font-weight="normal" textLength="8.6" lengthAdjust="spacingAndGlyphs" stroke="#231f20" stroke-width="0.12">BP</text>
<text x="483.05" y="135.0" font-size="8.6" text-anchor="middle" fill="#231f20" font-weight="normal" textLength="18.5" lengthAdjust="spacingAndGlyphs" stroke="#231f20" stroke-width="0.12">TKI-R</text>
<text x="463.2" y="148.6" font-size="8.6" text-anchor="middle" fill="#231f20" font-weight="normal" textLength="14.4" lengthAdjust="spacingAndGlyphs" stroke="#231f20" stroke-width="0.12">CML</text>
<line x1="432" y1="139" x2="494.2" y2="139" stroke="#6d6d6d" stroke-width="1.2"/>
<text transform="translate(349.8 80.3) rotate(-90)" x="0" y="0" font-size="9.2" text-anchor="middle" fill="#231f20" textLength="75.2" lengthAdjust="spacingAndGlyphs" stroke="#231f20" stroke-width="0.12">Relative <tspan font-style="italic" font-weight="bold">MS4A3</tspan> mRNA</text>
<text x="337.1" y="161.8" font-size="11.5" text-anchor="start" fill="#000" font-weight="bold">D</text>
<line x1="375.3" y1="163.0" x2="375.3" y2="249.1" stroke="#231f20" stroke-width="1.4"/>
<line x1="374.6" y1="248.5" x2="500.6" y2="248.5" stroke="#231f20" stroke-width="1.3"/>
<line x1="372.4" y1="248.50" x2="375.3" y2="248.50" stroke="#231f20" stroke-width="1"/>
<text x="370.3" y="251.5" font-size="8.2" text-anchor="end" fill="#231f20" font-weight="normal" textLength="3.9" lengthAdjust="spacingAndGlyphs" stroke="#231f20" stroke-width="0.12">0</text>
<line x1="372.4" y1="221.10" x2="375.3" y2="221.10" stroke="#231f20" stroke-width="1"/>
<text x="370.3" y="224.1" font-size="8.2" text-anchor="end" fill="#231f20" font-weight="normal" textLength="3.9" lengthAdjust="spacingAndGlyphs" stroke="#231f20" stroke-width="0.12">5</text>
<line x1="372.4" y1="193.70" x2="375.3" y2="193.70" stroke="#231f20" stroke-width="1"/>
<text x="370.3" y="196.7" font-size="8.2" text-anchor="end" fill="#231f20" font-weight="normal" textLength="7.6" lengthAdjust="spacingAndGlyphs" stroke="#231f20" stroke-width="0.12">10</text>
<line x1="372.4" y1="166.30" x2="375.3" y2="166.30" stroke="#231f20" stroke-width="1"/>
<text x="370.3" y="169.3" font-size="8.2" text-anchor="end" fill="#231f20" font-weight="normal" textLength="7.6" lengthAdjust="spacingAndGlyphs" stroke="#231f20" stroke-width="0.12">15</text>
<line x1="410.9" y1="248.5" x2="410.9" y2="251.5" stroke="#231f20" stroke-width="1"/>
<line x1="464.5" y1="248.5" x2="464.5" y2="251.5" stroke="#231f20" stroke-width="1"/>
<circle cx="410.9" cy="184.8" r="1.6" fill="#c8102e"/>
<circle cx="406.2" cy="200.2" r="1.6" fill="#c8102e"/>
<circle cx="411.1" cy="201.3" r="1.6" fill="#c8102e"/>
<circle cx="416.2" cy="201.3" r="1.6" fill="#c8102e"/>
<circle cx="408.7" cy="206.2" r="1.6" fill="#c8102e"/>
<circle cx="416.2" cy="209.2" r="1.6" fill="#c8102e"/>
<circle cx="413.6" cy="213.2" r="1.6" fill="#c8102e"/>
<circle cx="408.7" cy="216.5" r="1.6" fill="#c8102e"/>
<line x1="393.8" y1="204.1" x2="429" y2="204.1" stroke="#333" stroke-width="0.8"/>
<line x1="403" y1="200.4" x2="420" y2="200.4" stroke="#333" stroke-width="0.8"/>
<line x1="403" y1="207.3" x2="420" y2="207.3" stroke="#333" stroke-width="0.8"/>
<line x1="410.9" y1="200.4" x2="410.9" y2="207.3" stroke="#333" stroke-width="0.8"/>
<rect x="465.6" y="206.7" width="3" height="3" fill="#0f4c8a"/>
<rect x="460.5" y="210.6" width="3" height="3" fill="#0f4c8a"/>
<rect x="463.0" y="216.0" width="3" height="3" fill="#0f4c8a"/>
<rect x="455.5" y="219.7" width="3" height="3" fill="#0f4c8a"/>
<rect x="465.6" y="220.1" width="3" height="3" fill="#0f4c8a"/>
<rect x="470.6" y="219.3" width="3" height="3" fill="#0f4c8a"/>
<rect x="460.5" y="222.2" width="3" height="3" fill="#0f4c8a"/>
<line x1="447.2" y1="217.6" x2="481.9" y2="217.6" stroke="#6f6f6f" stroke-width="1"/>
<line x1="456.1" y1="215.3" x2="473" y2="215.3" stroke="#6f6f6f" stroke-width="1"/>
<line x1="456.1" y1="219.8" x2="473" y2="219.8" stroke="#6f6f6f" stroke-width="1"/>
<text x="465" y="195.6" font-size="8.6" text-anchor="middle" fill="#231f20" font-weight="normal" textLength="8.8" lengthAdjust="spacingAndGlyphs" stroke="#231f20" stroke-width="0.12">***</text>
<text x="411.45" y="261.2" font-size="8.6" text-anchor="middle" fill="#231f20" font-weight="normal" textLength="29.5" lengthAdjust="spacingAndGlyphs" stroke="#231f20" stroke-width="0.12">CP-CML</text>
<text x="466.9" y="261.2" font-size="8.6" text-anchor="middle" fill="#231f20" font-weight="normal" textLength="28.8" lengthAdjust="spacingAndGlyphs" stroke="#231f20" stroke-width="0.12">BP-CML</text>
<text transform="translate(357.6 205.25) rotate(-90)" x="0" y="0" font-size="9.4" text-anchor="middle" fill="#231f20" textLength="65.1" lengthAdjust="spacingAndGlyphs" stroke="#231f20" stroke-width="0.12">Log2 <tspan font-style="italic" font-weight="bold">MS4A3</tspan> mRNA</text>
<text x="337.3" y="276.8" font-size="11.5" text-anchor="start" fill="#000" font-weight="bold">E</text>
<line x1="375.4" y1="277.3" x2="375.4" y2="406.6" stroke="#231f20" stroke-width="1.4"/>
<line x1="374.7" y1="406.1" x2="513" y2="406.1" stroke="#231f20" stroke-width="1.3"/>
<line x1="372.5" y1="406.00" x2="375.4" y2="406.00" stroke="#231f20" stroke-width="1"/>
<text x="370.4" y="408.9" font-size="8.2" text-anchor="end" fill="#231f20" font-weight="normal" textLength="4.2" lengthAdjust="spacingAndGlyphs" stroke="#231f20" stroke-width="0.12">0</text>
<line x1="372.5" y1="381.00" x2="375.4" y2="381.00" stroke="#231f20" stroke-width="1"/>
<text x="370.4" y="383.9" font-size="8.2" text-anchor="end" fill="#231f20" font-weight="normal" textLength="19.2" lengthAdjust="spacingAndGlyphs" stroke="#231f20" stroke-width="0.12">1,000</text>
<line x1="372.5" y1="356.00" x2="375.4" y2="356.00" stroke="#231f20" stroke-width="1"/>
<text x="370.4" y="358.9" font-size="8.2" text-anchor="end" fill="#231f20" font-weight="normal" textLength="19.2" lengthAdjust="spacingAndGlyphs" stroke="#231f20" stroke-width="0.12">2,000</text>
<line x1="372.5" y1="331.00" x2="375.4" y2="331.00" stroke="#231f20" stroke-width="1"/>
<text x="370.4" y="333.9" font-size="8.2" text-anchor="end" fill="#231f20" font-weight="normal" textLength="19.2" lengthAdjust="spacingAndGlyphs" stroke="#231f20" stroke-width="0.12">3,000</text>
<line x1="372.5" y1="306.00" x2="375.4" y2="306.00" stroke="#231f20" stroke-width="1"/>
<text x="370.4" y="308.9" font-size="8.2" text-anchor="end" fill="#231f20" font-weight="normal" textLength="19.2" lengthAdjust="spacingAndGlyphs" stroke="#231f20" stroke-width="0.12">4,000</text>
<line x1="372.5" y1="281.00" x2="375.4" y2="281.00" stroke="#231f20" stroke-width="1"/>
<text x="370.4" y="283.9" font-size="8.2" text-anchor="end" fill="#231f20" font-weight="normal" textLength="19.2" lengthAdjust="spacingAndGlyphs" stroke="#231f20" stroke-width="0.12">5,000</text>
<line x1="394.15" y1="406.1" x2="394.15" y2="409.2" stroke="#231f20" stroke-width="1"/>
<line x1="443.5" y1="406.1" x2="443.5" y2="409.2" stroke="#231f20" stroke-width="1"/>
<line x1="493.1" y1="406.1" x2="493.1" y2="409.2" stroke="#231f20" stroke-width="1"/>
<rect x="379.1" y="389.6" width="7.70" height="16.40" fill="#e07b8f"/>
<line x1="382.95" y1="385.4" x2="382.95" y2="392.8" stroke="#c8102e" stroke-width="0.9" stroke-opacity="0.75"/>
<line x1="380.85" y1="385.4" x2="385.05" y2="385.4" stroke="#c8102e" stroke-width="0.9" stroke-opacity="0.75"/>
<line x1="380.85" y1="392.8" x2="385.05" y2="392.8" stroke="#c8102e" stroke-width="0.9" stroke-opacity="0.75"/>
<circle cx="383" cy="382.7" r="1.8" fill="#c8102e"/>
<circle cx="383" cy="389.2" r="1.8" fill="#c8102e"/>
<circle cx="383" cy="395.9" r="1.8" fill="#c8102e"/>
<rect x="390.8" y="393.1" width="7.50" height="12.90" fill="#87a5c5"/>
<line x1="394.55" y1="388.1" x2="394.55" y2="398.0" stroke="#0f4c8a" stroke-width="0.9" stroke-opacity="0.75"/>
<line x1="392.45" y1="388.1" x2="396.65" y2="388.1" stroke="#0f4c8a" stroke-width="0.9" stroke-opacity="0.75"/>
<line x1="392.45" y1="398.0" x2="396.65" y2="398.0" stroke="#0f4c8a" stroke-width="0.9" stroke-opacity="0.75"/>
<circle cx="394.5" cy="382.9" r="1.8" fill="#0f4c8a"/>
<circle cx="396.6" cy="396.2" r="1.8" fill="#0f4c8a"/>
<circle cx="392.4" cy="399.0" r="1.8" fill="#0f4c8a"/>
<rect x="402.5" y="397.3" width="7.30" height="8.70" fill="#95d69f"/>
<line x1="406.15" y1="392.7" x2="406.15" y2="401.0" stroke="#2db34a" stroke-width="0.9" stroke-opacity="0.75"/>
<line x1="404.05" y1="392.7" x2="408.25" y2="392.7" stroke="#2db34a" stroke-width="0.9" stroke-opacity="0.75"/>
<line x1="404.05" y1="401.0" x2="408.25" y2="401.0" stroke="#2db34a" stroke-width="0.9" stroke-opacity="0.75"/>
<rect x="404.65" y="387.35" width="2.9" height="2.9" fill="#2db34a"/>
<rect x="403.15" y="397.85" width="2.9" height="2.9" fill="#2db34a"/>
<rect x="406.15" y="397.85" width="2.9" height="2.9" fill="#2db34a"/>
<rect x="404.65" y="396.55" width="2.9" height="2.9" fill="#2db34a"/>
<rect x="428.0" y="324.5" width="7.50" height="81.50" fill="#e07b8f"/>
<line x1="431.75" y1="303.2" x2="431.75" y2="345.1" stroke="#c8102e" stroke-width="0.9" stroke-opacity="0.75"/>
<line x1="429.65" y1="303.2" x2="433.85" y2="303.2" stroke="#c8102e" stroke-width="0.9" stroke-opacity="0.75"/>
<line x1="429.65" y1="345.1" x2="433.85" y2="345.1" stroke="#c8102e" stroke-width="0.9" stroke-opacity="0.75"/>
<circle cx="431.5" cy="282.8" r="1.8" fill="#c8102e"/>
<circle cx="431.5" cy="338.6" r="1.8" fill="#c8102e"/>
<circle cx="431.5" cy="351.1" r="1.8" fill="#c8102e"/>
<rect x="439.8" y="351.8" width="7.40" height="54.20" fill="#87a5c5"/>
<line x1="443.50" y1="342.5" x2="443.50" y2="360.4" stroke="#0f4c8a" stroke-width="0.9" stroke-opacity="0.75"/>
<line x1="441.40" y1="342.5" x2="445.60" y2="342.5" stroke="#0f4c8a" stroke-width="0.9" stroke-opacity="0.75"/>
<line x1="441.40" y1="360.4" x2="445.60" y2="360.4" stroke="#0f4c8a" stroke-width="0.9" stroke-opacity="0.75"/>
<circle cx="443.5" cy="338.4" r="1.8" fill="#0f4c8a"/>
<circle cx="443.5" cy="346.7" r="1.8" fill="#0f4c8a"/>
<circle cx="443.6" cy="369.2" r="1.8" fill="#0f4c8a"/>
<rect x="451.2" y="390.2" width="7.80" height="15.80" fill="#95d69f"/>
<line x1="455.10" y1="386.1" x2="455.10" y2="396.0" stroke="#2db34a" stroke-width="0.9" stroke-opacity="0.75"/>
<line x1="453.00" y1="386.1" x2="457.20" y2="386.1" stroke="#2db34a" stroke-width="0.9" stroke-opacity="0.75"/>
<line x1="453.00" y1="396.0" x2="457.20" y2="396.0" stroke="#2db34a" stroke-width="0.9" stroke-opacity="0.75"/>
<rect x="453.65" y="380.75" width="2.9" height="2.9" fill="#2db34a"/>
<rect x="453.65" y="388.75" width="2.9" height="2.9" fill="#2db34a"/>
<rect x="453.65" y="393.15" width="2.9" height="2.9" fill="#2db34a"/>
<rect x="453.65" y="390.95" width="2.9" height="2.9" fill="#2db34a"/>
<rect x="478.0" y="371.3" width="7.40" height="34.70" fill="#e07b8f"/>
<line x1="481.70" y1="355.2" x2="481.70" y2="387.5" stroke="#c8102e" stroke-width="0.9" stroke-opacity="0.75"/>
<line x1="479.60" y1="355.2" x2="483.80" y2="355.2" stroke="#c8102e" stroke-width="0.9" stroke-opacity="0.75"/>
<line x1="479.60" y1="387.5" x2="483.80" y2="387.5" stroke="#c8102e" stroke-width="0.9" stroke-opacity="0.75"/>
<circle cx="481.5" cy="338.8" r="1.8" fill="#c8102e"/>
<circle cx="481.5" cy="385.5" r="1.8" fill="#c8102e"/>
<circle cx="481.5" cy="388.3" r="1.8" fill="#c8102e"/>
<rect x="489.6" y="329.4" width="7.30" height="76.60" fill="#87a5c5"/>
<line x1="493.25" y1="306.4" x2="493.25" y2="351.3" stroke="#0f4c8a" stroke-width="0.9" stroke-opacity="0.75"/>
<line x1="491.15" y1="306.4" x2="495.35" y2="306.4" stroke="#0f4c8a" stroke-width="0.9" stroke-opacity="0.75"/>
<line x1="491.15" y1="351.3" x2="495.35" y2="351.3" stroke="#0f4c8a" stroke-width="0.9" stroke-opacity="0.75"/>
<circle cx="493.2" cy="284.1" r="1.8" fill="#0f4c8a"/>
<circle cx="493.2" cy="347.4" r="1.8" fill="#0f4c8a"/>
<circle cx="493.2" cy="355.3" r="1.8" fill="#0f4c8a"/>
<rect x="501.3" y="393.0" width="7.60" height="13.00" fill="#95d69f"/>
<line x1="505.10" y1="389.7" x2="505.10" y2="398.0" stroke="#2db34a" stroke-width="0.9" stroke-opacity="0.75"/>
<line x1="503.00" y1="389.7" x2="507.20" y2="389.7" stroke="#2db34a" stroke-width="0.9" stroke-opacity="0.75"/>
<line x1="503.00" y1="398.0" x2="507.20" y2="398.0" stroke="#2db34a" stroke-width="0.9" stroke-opacity="0.75"/>
<rect x="503.55" y="384.45" width="2.9" height="2.9" fill="#2db34a"/>
<rect x="501.75" y="395.45" width="2.9" height="2.9" fill="#2db34a"/>
<rect x="505.55" y="393.25" width="2.9" height="2.9" fill="#2db34a"/>
<rect x="379.8" y="283.0" width="5.3" height="5.1" fill="#c8102e"/>
<rect x="379.8" y="293.3" width="5.3" height="5.1" fill="#0f4c8a"/>
<rect x="379.8" y="303.6" width="5.3" height="5.1" fill="#2db34a"/>
<text x="388.0" y="287.8" font-size="8.2" text-anchor="start" fill="#231f20" font-weight="normal" textLength="9.9" lengthAdjust="spacingAndGlyphs" stroke="#231f20" stroke-width="0.12">CB</text>
<text x="388.0" y="298.3" font-size="8.2" text-anchor="start" fill="#231f20" font-weight="normal" textLength="31.3" lengthAdjust="spacingAndGlyphs" stroke="#231f20" stroke-width="0.12">Adult BM</text>
<text x="388.0" y="308.8" font-size="8.2" text-anchor="start" fill="#231f20" font-weight="normal" textLength="27.4" lengthAdjust="spacingAndGlyphs" stroke="#231f20" stroke-width="0.12">CP-CML</text>
<text x="394.4" y="418.8" font-size="8.4" text-anchor="middle" fill="#231f20" font-weight="normal" textLength="23.3" lengthAdjust="spacingAndGlyphs" stroke="#231f20" stroke-width="0.12">CD34<tspan font-size="5.2" dy="-3.2">+</tspan></text>
<text x="394.4" y="428.2" font-size="8.4" text-anchor="middle" fill="#231f20" font-weight="normal" textLength="23.3" lengthAdjust="spacingAndGlyphs" stroke="#231f20" stroke-width="0.12">CD38<tspan font-size="5.2" dy="-3.2">−</tspan></text>
<text x="443.6" y="418.8" font-size="8.4" text-anchor="middle" fill="#231f20" font-weight="normal" textLength="23.3" lengthAdjust="spacingAndGlyphs" stroke="#231f20" stroke-width="0.12">CD34<tspan font-size="5.2" dy="-3.2">+</tspan></text>
<text x="443.6" y="428.2" font-size="8.4" text-anchor="middle" fill="#231f20" font-weight="normal" textLength="23.3" lengthAdjust="spacingAndGlyphs" stroke="#231f20" stroke-width="0.12">CD38<tspan font-size="5.2" dy="-3.2">+</tspan></text>
<text x="493.1" y="418.8" font-size="8.4" text-anchor="middle" fill="#231f20" font-weight="normal" textLength="23.3" lengthAdjust="spacingAndGlyphs" stroke="#231f20" stroke-width="0.12">CD34<tspan font-size="5.2" dy="-3.2">−</tspan></text>
<text x="493.1" y="428.2" font-size="8.4" text-anchor="middle" fill="#231f20" font-weight="normal" textLength="23.3" lengthAdjust="spacingAndGlyphs" stroke="#231f20" stroke-width="0.12">CD38<tspan font-size="5.2" dy="-3.2">+</tspan></text>
<text transform="translate(345.0 341.45) rotate(-90)" x="0" y="0" font-size="9.4" text-anchor="middle" fill="#231f20" textLength="37.9" lengthAdjust="spacingAndGlyphs" stroke="#231f20" stroke-width="0.12">MS4A3 MFI</text>
<text x="337.6" y="444.4" font-size="11.5" text-anchor="start" fill="#000" font-weight="bold">F</text>
<line x1="375.7" y1="445" x2="375.7" y2="531" stroke="#231f20" stroke-width="1.4"/>
<line x1="375" y1="530.4" x2="503.7" y2="530.4" stroke="#231f20" stroke-width="1.3"/>
<line x1="372.8" y1="530.40" x2="375.7" y2="530.40" stroke="#231f20" stroke-width="1"/>
<text x="371.2" y="533.3" font-size="8.2" text-anchor="end" fill="#231f20" font-weight="normal" textLength="4.2" lengthAdjust="spacingAndGlyphs" stroke="#231f20" stroke-width="0.12">0</text>
<line x1="372.8" y1="514.07" x2="375.7" y2="514.07" stroke="#231f20" stroke-width="1"/>
<text x="371.2" y="516.97" font-size="8.2" text-anchor="end" fill="#231f20" font-weight="normal" textLength="8.6" lengthAdjust="spacingAndGlyphs" stroke="#231f20" stroke-width="0.12">20</text>
<line x1="372.8" y1="497.74" x2="375.7" y2="497.74" stroke="#231f20" stroke-width="1"/>
<text x="371.2" y="500.64" font-size="8.2" text-anchor="end" fill="#231f20" font-weight="normal" textLength="8.6" lengthAdjust="spacingAndGlyphs" stroke="#231f20" stroke-width="0.12">40</text>
<line x1="372.8" y1="481.41" x2="375.7" y2="481.41" stroke="#231f20" stroke-width="1"/>
<text x="371.2" y="484.31" font-size="8.2" text-anchor="end" fill="#231f20" font-weight="normal" textLength="8.6" lengthAdjust="spacingAndGlyphs" stroke="#231f20" stroke-width="0.12">60</text>
<line x1="372.8" y1="465.08" x2="375.7" y2="465.08" stroke="#231f20" stroke-width="1"/>
<text x="371.2" y="467.98" font-size="8.2" text-anchor="end" fill="#231f20" font-weight="normal" textLength="8.6" lengthAdjust="spacingAndGlyphs" stroke="#231f20" stroke-width="0.12">80</text>
<line x1="372.8" y1="448.75" x2="375.7" y2="448.75" stroke="#231f20" stroke-width="1"/>
<text x="371.2" y="451.65" font-size="8.2" text-anchor="end" fill="#231f20" font-weight="normal" textLength="13.4" lengthAdjust="spacingAndGlyphs" stroke="#231f20" stroke-width="0.12">100</text>
<line x1="375.5" y1="530.4" x2="375.5" y2="533.2" stroke="#231f20" stroke-width="1"/>
<text x="375.5" y="542.2" font-size="8.2" text-anchor="middle" fill="#231f20" font-weight="normal" textLength="4.3" lengthAdjust="spacingAndGlyphs" stroke="#231f20" stroke-width="0.12">0</text>
<line x1="400.3" y1="530.4" x2="400.3" y2="533.2" stroke="#231f20" stroke-width="1"/>
<text x="400.3" y="542.2" font-size="8.2" text-anchor="middle" fill="#231f20" font-weight="normal" textLength="4.3" lengthAdjust="spacingAndGlyphs" stroke="#231f20" stroke-width="0.12">2</text>
<line x1="425.1" y1="530.4" x2="425.1" y2="533.2" stroke="#231f20" stroke-width="1"/>
<text x="425.1" y="542.2" font-size="8.2" text-anchor="middle" fill="#231f20" font-weight="normal" textLength="4.3" lengthAdjust="spacingAndGlyphs" stroke="#231f20" stroke-width="0.12">4</text>
<line x1="449.9" y1="530.4" x2="449.9" y2="533.2" stroke="#231f20" stroke-width="1"/>
<text x="449.9" y="542.2" font-size="8.2" text-anchor="middle" fill="#231f20" font-weight="normal" textLength="4.3" lengthAdjust="spacingAndGlyphs" stroke="#231f20" stroke-width="0.12">6</text>
<line x1="474.7" y1="530.4" x2="474.7" y2="533.2" stroke="#231f20" stroke-width="1"/>
<text x="474.7" y="542.2" font-size="8.2" text-anchor="middle" fill="#231f20" font-weight="normal" textLength="4.3" lengthAdjust="spacingAndGlyphs" stroke="#231f20" stroke-width="0.12">8</text>
<line x1="499.5" y1="530.4" x2="499.5" y2="533.2" stroke="#231f20" stroke-width="1"/>
<text x="499.5" y="542.2" font-size="8.2" text-anchor="middle" fill="#231f20" font-weight="normal" textLength="8.6" lengthAdjust="spacingAndGlyphs" stroke="#231f20" stroke-width="0.12">10</text>
<text x="438.5" y="553.6" font-size="8.6" text-anchor="middle" fill="#231f20" font-weight="normal" textLength="18.5" lengthAdjust="spacingAndGlyphs" stroke="#231f20" stroke-width="0.12">Years</text>
<text transform="translate(351.9 487.7) rotate(-90)" x="0" y="0" font-size="9.4" text-anchor="middle" fill="#231f20" textLength="52" lengthAdjust="spacingAndGlyphs" stroke="#231f20" stroke-width="0.12">Percent survival</text>
<polyline points="375.50,448.75 449.40,448.75 449.40,453.65 456.84,453.65 456.84,458.22 460.69,458.22 460.69,462.88 493.30,462.88" fill="none" stroke="#de5f78" stroke-width="1.3"/>
<polyline points="375.50,448.75 396.58,448.75 396.58,455.53 417.66,455.53 417.66,461.81 418.90,461.81 418.90,469.16 419.52,469.16 419.52,475.94 482.51,475.94 482.51,489.57 498.26,489.57" fill="none" stroke="#4a7db0" stroke-width="1.3"/>
<polygon points="385.21,449.95 388.61,449.95 386.91,447.05" fill="#c8102e"/>
<polygon points="388.93,449.95 392.33,449.95 390.63,447.05" fill="#c8102e"/>
<polygon points="425.01,449.95 428.41,449.95 426.71,447.05" fill="#c8102e"/>
<polygon points="443.24,449.95 446.64,449.95 444.94,447.05" fill="#c8102e"/>
<polygon points="447.70,454.85 451.10,454.85 449.40,451.95" fill="#c8102e"/>
<polygon points="455.14,459.42 458.54,459.42 456.84,456.52" fill="#c8102e"/>
<polygon points="458.99,464.08 462.39,464.08 460.69,461.18" fill="#c8102e"/>
<polygon points="470.15,464.08 473.55,464.08 471.85,461.18" fill="#c8102e"/>
<polygon points="477.96,464.08 481.36,464.08 479.66,461.18" fill="#c8102e"/>
<polygon points="480.07,464.08 483.47,464.08 481.77,461.18" fill="#c8102e"/>
<polygon points="481.93,464.08 485.33,464.08 483.63,461.18" fill="#c8102e"/>
<polygon points="484.16,464.08 487.56,464.08 485.86,461.18" fill="#c8102e"/>
<polygon points="486.39,464.08 489.79,464.08 488.09,461.18" fill="#c8102e"/>
<polygon points="491.60,464.08 495.00,464.08 493.30,461.18" fill="#c8102e"/>
<polygon points="394.88,454.33 398.28,454.33 396.58,457.23" fill="#0f4c8a"/>
<polygon points="415.96,460.61 419.36,460.61 417.66,463.51" fill="#0f4c8a"/>
<polygon points="417.20,467.96 420.60,467.96 418.90,470.86" fill="#0f4c8a"/>
<polygon points="417.82,474.74 421.22,474.74 419.52,477.64" fill="#0f4c8a"/>
<polygon points="445.10,474.74 448.50,474.74 446.80,477.64" fill="#0f4c8a"/>
<polygon points="458.12,474.74 461.52,474.74 459.82,477.64" fill="#0f4c8a"/>
<polygon points="465.19,474.74 468.59,474.74 466.89,477.64" fill="#0f4c8a"/>
<polygon points="477.71,474.74 481.11,474.74 479.41,477.64" fill="#0f4c8a"/>
<polygon points="481.43,488.38 484.83,488.38 483.13,491.27" fill="#0f4c8a"/>
<polygon points="483.91,488.38 487.31,488.38 485.61,491.27" fill="#0f4c8a"/>
<polygon points="491.60,488.38 495.00,488.38 493.30,491.27" fill="#0f4c8a"/>
<polygon points="496.06,488.38 499.46,488.38 497.76,491.27" fill="#0f4c8a"/>
<line x1="383" y1="509.6" x2="391.7" y2="509.6" stroke="#de5f78" stroke-width="1.3"/>
<polygon points="385.60,510.80 389.00,510.80 387.30,507.90" fill="#c8102e"/>
<line x1="383" y1="520.5" x2="391.7" y2="520.5" stroke="#4a7db0" stroke-width="1.3"/>
<polygon points="385.60,519.30 389.00,519.30 387.30,522.20" fill="#0f4c8a"/>
<text x="393.7" y="512.4" font-size="8.2" text-anchor="start" fill="#231f20" font-weight="normal" textLength="41.6" lengthAdjust="spacingAndGlyphs" stroke="#231f20" stroke-width="0.12">High MS4A3</text>
<text x="393.7" y="523.3" font-size="8.2" text-anchor="start" fill="#231f20" font-weight="normal" textLength="38.6" lengthAdjust="spacingAndGlyphs" stroke="#231f20" stroke-width="0.12">Low MS4A3</text>
<text x="488" y="504.2" font-size="8.8" text-anchor="middle" fill="#231f20" font-weight="normal" textLength="27.4" lengthAdjust="spacingAndGlyphs" stroke="#231f20" stroke-width="0.12">p&lt;0.05</text>
<rect x="0" y="0" width="520" height="1" fill="#000"/>
<rect x="0" y="0" width="1" height="562" fill="#000"/>
<rect x="519" y="0" width="1" height="562" fill="#000"/>
<rect x="0" y="560.4" width="520" height="1.6" fill="#000"/>
</svg>
</body></html>
